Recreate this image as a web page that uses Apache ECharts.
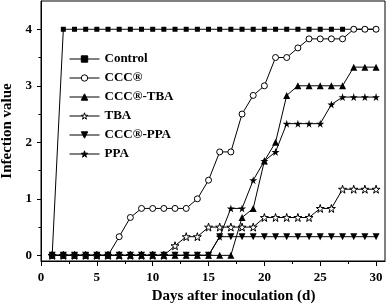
<!DOCTYPE html>
<html>
<head>
<meta charset="utf-8">
<script src="https://cdn.jsdelivr.net/npm/echarts@6/dist/echarts.min.js"></script>
<style>
  html, body { margin: 0; padding: 0; background: #fff; }
  #chart { width: 388px; height: 305px; }
</style>
</head>
<body>
<div id="chart"></div>
<script>
const days = [1, 2, 3, 4, 5, 6, 7, 8, 9, 10, 11, 12, 13, 14, 15, 16, 17, 18, 19, 20, 21, 22, 23, 24, 25, 26, 27, 28, 29, 30];

const control = [0, 4, 4, 4, 4, 4, 4, 4, 4, 4, 4, 4, 4, 4, 4, 4, 4, 4, 4, 4, 4, 4, 4, 4, 4, 4, 4, 4, 4, 4];
const ccc = [0, 0, 0, 0, 0, 0, 0.33, 0.67, 0.83, 0.83, 0.83, 0.83, 0.83, 1.0, 1.33, 1.83, 1.83, 2.5, 2.83, 3.0, 3.5, 3.5, 3.67, 3.83, 3.83, 3.83, 3.83, 4, 4, 4];
const cccTba = [0, 0, 0, 0, 0, 0, 0, 0, 0, 0, 0, 0, 0, 0, 0, 0, 0, 0.67, 0.83, 1.67, 2.0, 2.83, 3.0, 3.0, 3.0, 3.0, 3.0, 3.33, 3.33, 3.33];
const tba = [0, 0, 0, 0, 0, 0, 0, 0, 0, 0, 0, 0.17, 0.33, 0.33, 0.5, 0.5, 0.5, 0.5, 0.5, 0.67, 0.67, 0.67, 0.67, 0.67, 0.83, 0.83, 1.17, 1.17, 1.17, 1.17];
const cccPpa = [0, 0, 0, 0, 0, 0, 0, 0, 0, 0, 0, 0, 0, 0, 0, 0.33, 0.33, 0.33, 0.33, 0.33, 0.33, 0.33, 0.33, 0.33, 0.33, 0.33, 0.33, 0.33, 0.33, 0.33];
const ppa = [0, 0, 0, 0, 0, 0, 0, 0, 0, 0, 0, 0, 0, 0, 0, 0.33, 0.83, 0.83, 1.33, 1.67, 1.83, 2.33, 2.33, 2.33, 2.33, 2.67, 2.8, 2.8, 2.8, 2.8];

const xTicks = [0, 5, 10, 15, 20, 25, 30];
const xMinorTicks = [2.5, 7.5, 12.5, 17.5, 22.5, 27.5];
const yTicks = [0, 1, 2, 3, 4];
const yMinorTicks = [0.5, 1.5, 2.5, 3.5];

const STAR = 'path://M50,0 L61,35 L98,35 L68,57 L79,91 L50,70 L21,91 L32,57 L2,35 L39,35 Z';
const FONT = 'Liberation Serif';

function pairs(values) {
  return days.map((d, i) => [d, values[i]]);
}

function makeSeries(name, values, symbol, size, open, rotate) {
  return {
    name: name,
    type: 'line',
    data: pairs(values),
    symbol: symbol,
    symbolSize: size,
    symbolRotate: rotate || 0,
    showAllSymbol: true,
    lineStyle: { color: '#000', width: 1 },
    itemStyle: open
      ? { color: '#fff', borderColor: '#000', borderWidth: 1 }
      : { color: '#000', borderColor: '#000', borderWidth: 0 },
    emphasis: { disabled: true },
    animation: false,
  };
}

const chart = echarts.init(document.getElementById('chart'), null, { renderer: 'canvas' });

const xBase = {
  type: 'value',
  min: 0,
  max: 30.8,
  position: 'bottom',
  splitLine: { show: false },
};
const yBase = {
  type: 'value',
  min: -0.1,
  max: 4.5,
  position: 'left',
  splitLine: { show: false },
};

chart.setOption({
  animation: false,
  grid: {
    left: 41,
    right: 3,
    top: 1,
    bottom: 44,
    outerBoundsMode: 'none',
    show: true,
    borderColor: '#000',
    borderWidth: 1,
    backgroundColor: 'transparent',
  },
  legend: {
    orient: 'vertical',
    left: 69,
    top: 52,
    padding: 0,
    itemWidth: 30,
    itemHeight: 8,
    itemGap: 5,
    itemStyle: { borderWidth: 1 },
    lineStyle: { width: 1 },
    textStyle: { fontFamily: FONT, fontWeight: 'bold', fontSize: 13, color: '#000', lineHeight: 14 },
    data: ['Control', 'CCC®', 'CCC®-TBA', 'TBA', 'CCC®-PPA', 'PPA'],
  },
  xAxis: [
    Object.assign({}, xBase, {
      name: 'Days after inoculation (d)',
      nameLocation: 'middle',
      nameGap: 28,
      nameTextStyle: { fontFamily: FONT, fontWeight: 'bold', fontSize: 15, color: '#000', padding: [0, 0, 0, 41] },
      axisLine: { onZero: false, lineStyle: { color: '#000', width: 1 } },
      axisTick: { length: 5, customValues: xTicks, lineStyle: { color: '#000' } },
      axisLabel: { customValues: xTicks, margin: 10, fontFamily: FONT, fontWeight: 'bold', fontSize: 13, color: '#000' },
    }),
    Object.assign({}, xBase, {
      axisLine: { show: false, onZero: false },
      axisTick: { length: 3, customValues: xMinorTicks, lineStyle: { color: '#000' } },
      axisLabel: { show: false },
    }),
  ],
  yAxis: [
    Object.assign({}, yBase, {
      name: 'Infection value',
      nameLocation: 'middle',
      nameGap: 24,
      nameTextStyle: { fontFamily: FONT, fontWeight: 'bold', fontSize: 15, color: '#000' },
      axisLine: { onZero: false, lineStyle: { color: '#000', width: 1 } },
      axisTick: { length: 4, customValues: yTicks, lineStyle: { color: '#000' } },
      axisLabel: { customValues: yTicks, margin: 9, fontFamily: FONT, fontWeight: 'bold', fontSize: 13, color: '#000' },
    }),
    Object.assign({}, yBase, {
      axisLine: { show: false, onZero: false },
      axisTick: { length: 2.5, customValues: yMinorTicks, lineStyle: { color: '#000' } },
      axisLabel: { show: false },
    }),
  ],
  series: [
    makeSeries('Control', control, 'rect', 5, false),
    makeSeries('CCC®', ccc, 'circle', 6, true),
    makeSeries('CCC®-TBA', cccTba, 'triangle', 7, false),
    makeSeries('TBA', tba, STAR, 8, true),
    makeSeries('CCC®-PPA', cccPpa, 'triangle', 7, false, 180),
    makeSeries('PPA', ppa, STAR, 8, false),
  ],
});
</script>
</body>
</html>
